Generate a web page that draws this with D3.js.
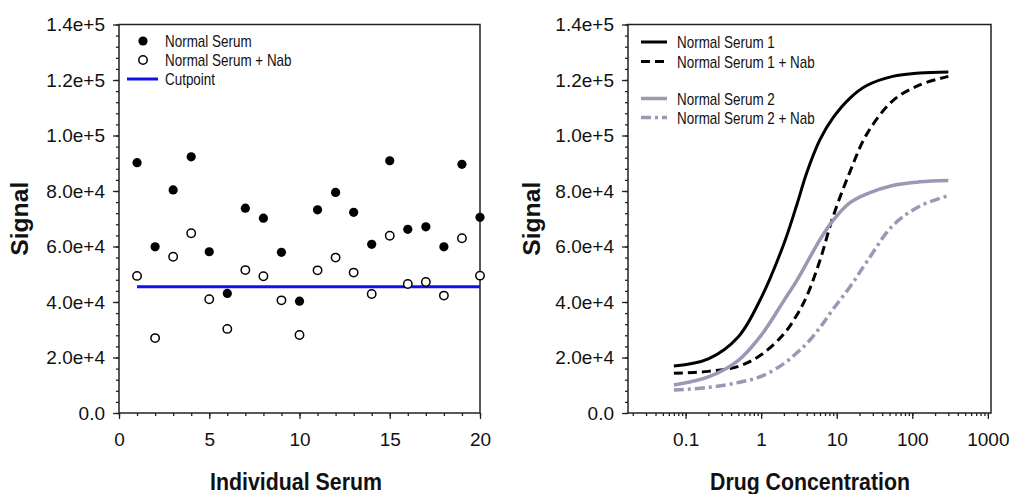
<!DOCTYPE html>
<html>
<head>
<meta charset="utf-8">
<script src="https://cdn.jsdelivr.net/npm/d3@7"></script>
<style>
  body { margin: 0; background: #fff; }
  text { font-family: "Liberation Sans", Arial, sans-serif; }
</style>
</head>
<body>
<svg id="chart" width="1009" height="494"></svg>
<script>
// ---- data ----
var serumIds = [1, 2, 3, 4, 5, 6, 7, 8, 9, 10, 11, 12, 13, 14, 15, 16, 17, 18, 19, 20];
var normalSerum = [90200, 59900, 80400, 92300, 58100, 43100, 73800, 70200, 57900, 40300,
                   73200, 79500, 72300, 60800, 90900, 66200, 67100, 59900, 89600, 70500];
var normalSerumNab = [49400, 27000, 56300, 64800, 41000, 30300, 51500, 49300, 40600, 28100,
                      51400, 56000, 50600, 42900, 63900, 46500, 47200, 42300, 63000, 49500];
var cutpoint = 45500;

var conc = [0.07, 0.2, 0.5, 1, 2, 3, 4, 6, 9, 15, 25, 55, 125, 300];
var serum1 = [16900, 19500, 27500, 41500, 61000, 75500, 86500, 98500, 106500, 113500, 118000, 121300, 122500, 122900];
var serum1Nab = [14300, 15000, 16800, 21000, 28500, 35500, 42000, 55000, 71000, 87000, 100500, 112500, 118200, 121300];
var serum2 = [10100, 13000, 19000, 28000, 40500, 48000, 54000, 62500, 69500, 75800, 79000, 82000, 83300, 83800];
var serum2Nab = [8300, 9200, 11000, 13200, 17800, 21800, 25000, 30800, 37500, 45500, 54500, 67500, 74500, 78300];

var yTicks = [0, 20000, 40000, 60000, 80000, 100000, 120000, 140000];
var serumTicks = [0, 5, 10, 15, 20];
var concTicks = [0.1, 1, 10, 100, 1000];

var gray = "#9a98b2";
var svg = d3.select("#chart");

var y = d3.scaleLinear().domain([0, 140000]).range([413, 24.5]);
var xL = d3.scaleLinear().domain([0, 20]).range([119, 480]);
var xR = d3.scaleLog().domain([0.0173, 1100]).range([628, 991]);

var yFmt = function(d){ return d === 0 ? "0.0" : d3.format(".1e")(d); };

function styleAxis(g){
  g.select(".domain").remove();
  g.selectAll("line").attr("stroke", "#222").attr("stroke-width", 1.3);
  g.selectAll("text").attr("font-size", 19).attr("fill", "#111")
    .attr("font-family", "'Liberation Sans', Arial, sans-serif");
}

function yAxis(x0){
  svg.append("g").attr("transform", "translate(" + x0 + ",0)")
    .call(d3.axisLeft(y).tickValues(d3.range(0, 140001, 4000)).tickSize(3).tickFormat("").tickSizeOuter(0))
    .call(styleAxis);
  svg.append("g").attr("transform", "translate(" + x0 + ",0)")
    .call(d3.axisLeft(y).tickValues(yTicks).tickSize(6).tickPadding(8).tickFormat(yFmt).tickSizeOuter(0))
    .call(styleAxis);
}

function frame(x0, x1){
  svg.append("rect")
    .attr("x", x0).attr("y", y(140000))
    .attr("width", x1 - x0).attr("height", y(0) - y(140000))
    .attr("fill", "none").attr("stroke", "#222").attr("stroke-width", 1.5);
}

function legendText(x, yy, s){
  svg.append("text")
    .attr("transform", "translate(" + x + "," + yy + ") scale(0.84,1)")
    .attr("font-size", 16).attr("fill", "#111").text(s);
}

function title(x, yy, s, len, rot){
  svg.append("text")
    .attr("transform", "translate(" + x + "," + yy + ")" + (rot ? " rotate(-90)" : ""))
    .attr("text-anchor", "middle").attr("font-size", 23).attr("font-weight", "bold")
    .attr("textLength", len).attr("lengthAdjust", "spacingAndGlyphs")
    .attr("fill", "#111").text(s);
}

// ---- left panel ----
yAxis(119);
svg.append("g").attr("transform", "translate(0,413)")
  .call(d3.axisBottom(xL).tickValues(d3.range(0, 21, 1)).tickSize(3).tickFormat("").tickSizeOuter(0))
  .call(styleAxis);
svg.append("g").attr("transform", "translate(0,413)")
  .call(d3.axisBottom(xL).tickValues(serumTicks).tickSize(6).tickPadding(14).tickSizeOuter(0))
  .call(styleAxis);
frame(119, 480);

svg.append("line")
  .attr("x1", xL(1)).attr("x2", xL(20))
  .attr("y1", y(cutpoint)).attr("y2", y(cutpoint))
  .attr("stroke", "#1010f0").attr("stroke-width", 3);

svg.append("g").selectAll("circle")
  .data(serumIds).enter().append("circle")
  .attr("cx", function(d){ return xL(d); })
  .attr("cy", function(d, i){ return y(normalSerum[i]); })
  .attr("r", 4.6).attr("fill", "#000");

svg.append("g").selectAll("circle")
  .data(serumIds).enter().append("circle")
  .attr("cx", function(d){ return xL(d); })
  .attr("cy", function(d, i){ return y(normalSerumNab[i]); })
  .attr("r", 4.2).attr("fill", "#fff").attr("stroke", "#000").attr("stroke-width", 1.5);

// left legend
svg.append("circle").attr("cx", 143).attr("cy", 41).attr("r", 4.6).attr("fill", "#000");
legendText(165, 47, "Normal Serum");
svg.append("circle").attr("cx", 143).attr("cy", 60).attr("r", 4.2)
  .attr("fill", "#fff").attr("stroke", "#000").attr("stroke-width", 1.5);
legendText(165, 66, "Normal Serum + Nab");
svg.append("line").attr("x1", 127).attr("x2", 158).attr("y1", 79).attr("y2", 79)
  .attr("stroke", "#1010f0").attr("stroke-width", 3);
legendText(165, 85, "Cutpoint");

title(28, 218.75, "Signal", 74, true);
title(296, 490, "Individual Serum", 172, false);

// ---- right panel ----
yAxis(628);
svg.append("g").attr("transform", "translate(0,413)")
  .call(d3.axisBottom(xR).tickValues(xR.ticks().filter(function(t){ return t >= 0.0173 && t <= 1100; }))
        .tickSize(3).tickFormat("").tickSizeOuter(0))
  .call(styleAxis);
svg.append("g").attr("transform", "translate(0,413)")
  .call(d3.axisBottom(xR).tickValues(concTicks).tickSize(6).tickPadding(14)
        .tickFormat(function(d){ return String(d); }).tickSizeOuter(0))
  .call(styleAxis);
frame(628, 991);

var line = d3.line()
  .x(function(d){ return xR(d[0]); })
  .y(function(d){ return y(d[1]); })
  .curve(d3.curveCatmullRom.alpha(0.5));

var series = [
  {name: "Normal Serum 1", values: serum1, color: "#000", dash: null, w: 3, ly: 42},
  {name: "Normal Serum 1 + Nab", values: serum1Nab, color: "#000", dash: "9,5", w: 3, ly: 61.5},
  {name: "Normal Serum 2", values: serum2, color: gray, dash: null, w: 3.5, ly: 98.5},
  {name: "Normal Serum 2 + Nab", values: serum2Nab, color: gray, dash: "10,4,3,4", w: 3.5, ly: 117.5}
];

series.forEach(function(s){
  svg.append("path")
    .datum(conc.map(function(c, i){ return [c, s.values[i]]; }))
    .attr("d", line)
    .attr("fill", "none").attr("stroke", s.color).attr("stroke-width", s.w)
    .attr("stroke-dasharray", s.dash);
  svg.append("line").attr("x1", 641).attr("x2", 667).attr("y1", s.ly).attr("y2", s.ly)
    .attr("stroke", s.color).attr("stroke-width", s.w).attr("stroke-dasharray", s.dash);
  legendText(677, s.ly + 6, s.name);
});

title(540, 218.75, "Signal", 74, true);
title(810, 490, "Drug Concentration", 200, false);
</script>
</body>
</html>
